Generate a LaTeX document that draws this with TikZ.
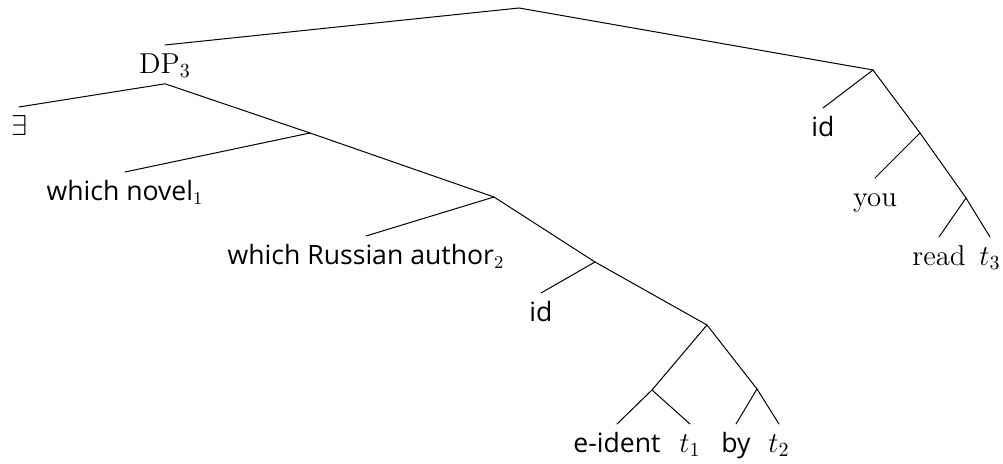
\documentclass[tikz,border=0pt]{standalone}
\usepackage{tikz}
\usepackage{amsmath,amssymb}
\usepackage{fontspec}
\newfontfamily\opensans{Open Sans}
\newcommand{\serfont}{\fontsize{14.4}{17}\selectfont}
\newcommand{\sanfont}{\fontsize{13.3}{16}\selectfont\opensans}
\tikzset{
  leaf/.style={inner sep=2pt, text height=12pt, text depth=3pt, anchor=north, font=\serfont},
  sleaf/.style={leaf, font=\sanfont},
  branch/.style={line width=0.5pt, line cap=round}
}

\begin{document}
\begin{tikzpicture}[x=0.5pt, y=-0.5pt]
\useasboundingbox (0,0) rectangle (1003,464);
% inner points of the tree
\coordinate (root) at (519,8);
\coordinate (dA) at (310,133);
\coordinate (dB) at (494,197);
\coordinate (dC) at (595,262);
\coordinate (dD) at (707,325);
\coordinate (dE) at (652,390);
\coordinate (dF) at (757,389);
\coordinate (rA) at (873,70);
\coordinate (rB) at (920,133);
\coordinate (rC) at (966,198);
% labels
\node[leaf] (dp) at (165,45) {DP$_3$};
\node[leaf] (exists) at (19,107) {$\exists$};
\node[sleaf] (novel) at (125,172) {which novel$_1$};
\node[sleaf] (author) at (366,236) {which Russian author$_2$};
\node[sleaf] (idA) at (541,293) {id};
\node[sleaf] (ident) at (617,424) {e-ident};
\node[leaf] (tA) at (690,424) {$t_1$};
\node[sleaf] (by) at (736,424) {by};
\node[leaf] (tB) at (779,424) {$t_2$};
\node[sleaf] (idB) at (823,108) {id};
\node[leaf] (you) at (875,178) {you};
\node[leaf] (read) at (939,237) {read};
\node[leaf] (tC) at (990,237) {$t_3$};
% branches
\draw[branch] (dp.north) -- (root) -- (rA);
\draw[branch] (exists.north) -- (dp.south) -- (dA) -- (dB) -- (dC) -- (dD) -- (dF) -- (tB.north);
\draw[branch] (dA) -- (novel.north);
\draw[branch] (dB) -- (author.north);
\draw[branch] (dC) -- (idA.north);
\draw[branch] (dD) -- (dE) -- (ident.north);
\draw[branch] (dE) -- (tA.north);
\draw[branch] (dF) -- (by.north);
\draw[branch] (idB.north) -- (rA) -- (rB) -- (rC) -- (tC.north);
\draw[branch] (rB) -- (you.north);
\draw[branch] (rC) -- (read.north);
\end{tikzpicture}
\end{document}
